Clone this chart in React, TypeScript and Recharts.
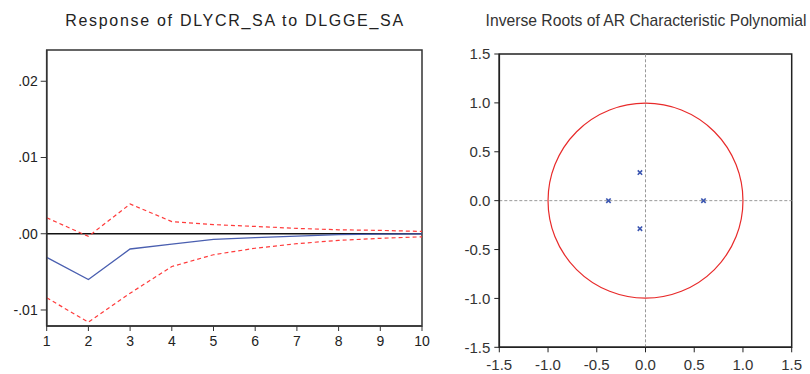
import React from 'react';
import {
  LineChart, Line, XAxis, YAxis, ReferenceLine, ReferenceArea,
  ScatterChart, Scatter, ReferenceDot,
} from 'recharts';

// ---- Left panel: impulse response ----
const periods = [1, 2, 3, 4, 5, 6, 7, 8, 9, 10];
const responseVals = [-0.0031, -0.0060, -0.0020, -0.00135, -0.00075, -0.0005, -0.0003, -0.00012, -0.00005, -0.00002];
const upperBand = [0.0021, -0.00035, 0.0039, 0.0016, 0.0012, 0.00096, 0.0007, 0.00052, 0.00044, 0.0003];
const lowerBand = [-0.0084, -0.0116, -0.0078, -0.0043, -0.00275, -0.0019, -0.0013, -0.00087, -0.0006, -0.0004];
const irfYTicks = [-0.01, 0, 0.01, 0.02];
const irfYDomain = [-0.0121, 0.0241];
const irfTitle = 'Response of DLYCR_SA to DLGGE_SA';

// ---- Right panel: inverse AR roots ----
const rootRe = [-0.38, 0.595, -0.057, -0.057];
const rootIm = [0, 0, 0.287, -0.287];
const rootTicks = [-1.5, -1.0, -0.5, 0, 0.5, 1.0, 1.5];
const rootDomain = [-1.5, 1.5];
const rootTitle = 'Inverse Roots of AR Characteristic Polynomial';

const FONT = '"Liberation Sans", Arial, sans-serif';

const irfData = periods.map((p, i) => ({ p, r: responseVals[i], u: upperBand[i], l: lowerBand[i] }));
const rootData = rootRe.map((re, i) => ({ re, im: rootIm[i] }));

const fmtIrf = (v: number) => {
  if (v === 0) return '.00';
  const s = Math.abs(v).toFixed(2).replace(/^0/, '');
  return (v < 0 ? '-' : '') + s;
};

// layout for right chart
const R_W = 370, R_H = 374;
const R_M = { top: 54, right: 18.3, bottom: 6.7, left: 9.3 };
const R_YW = 50, R_XH = 20;
const rPlotW = R_W - R_M.left - R_M.right - R_YW;
const unitRadius = rPlotW / (rootDomain[1] - rootDomain[0]);

const XMark = (props: any) => {
  const { cx, cy } = props;
  const s = 2.2;
  return (
    <g stroke="#3a55b0" strokeWidth={1.6}>
      <line x1={cx - s} y1={cy - s} x2={cx + s} y2={cy + s} />
      <line x1={cx - s} y1={cy + s} x2={cx + s} y2={cy - s} />
    </g>
  );
};

export default function App() {
  return (
    <div style={{ position: 'absolute', left: 0, top: 0, width: 810, height: 374, background: '#fff', fontFamily: FONT }}>
      <div style={{ position: 'absolute', left: 0, top: 13, width: 470, textAlign: 'center', fontSize: 16, lineHeight: '16px', letterSpacing: 1.7, color: '#222', whiteSpace: 'nowrap' }}>
        {irfTitle}
      </div>
      <div style={{ position: 'absolute', left: 440 + 206 - 200, top: 13, width: 400, textAlign: 'center', fontSize: 15.7, lineHeight: '16px', color: '#333', whiteSpace: 'nowrap' }}>
        {rootTitle}
      </div>

      <div style={{ position: 'absolute', left: 0, top: 0 }}>
        <LineChart width={430} height={374} data={irfData} margin={{ top: 50, right: 8, bottom: 18, left: 6.7 }}>
          <XAxis dataKey="p" type="number" domain={[1, 10]} ticks={periods} interval={0}
            tick={{ fill: '#222', fontSize: 14, fontFamily: FONT }} tickSize={5} tickMargin={5}
            axisLine={{ stroke: '#333', strokeWidth: 1.5 }} tickLine={{ stroke: '#333' }} height={30} allowDataOverflow />
          <YAxis type="number" domain={irfYDomain} ticks={irfYTicks} tickFormatter={fmtIrf} interval={0}
            tick={{ fill: '#222', fontSize: 14, fontFamily: FONT }} tickSize={6} tickMargin={3}
            axisLine={{ stroke: '#333', strokeWidth: 1.5 }} tickLine={{ stroke: '#333' }} width={40} allowDataOverflow />
          <ReferenceArea x1={1} x2={10} y1={irfYDomain[0]} y2={irfYDomain[1]} fill="none" stroke="#333" strokeWidth={1.5} ifOverflow="visible" />
          <ReferenceLine y={0} stroke="#111" strokeWidth={1.3} />
          <Line dataKey="u" stroke="#ff3b3b" strokeWidth={1.2} strokeDasharray="4 3" dot={false} isAnimationActive={false} />
          <Line dataKey="l" stroke="#ff3b3b" strokeWidth={1.2} strokeDasharray="4 3" dot={false} isAnimationActive={false} />
          <Line dataKey="r" stroke="#4a5fb0" strokeWidth={1.3} dot={false} isAnimationActive={false} />
        </LineChart>
      </div>

      <div style={{ position: 'absolute', left: 440, top: 0 }}>
        <ScatterChart width={R_W} height={R_H} margin={R_M}>
          <XAxis dataKey="re" type="number" domain={rootDomain} ticks={rootTicks} interval={0}
            tickFormatter={(v: number) => v.toFixed(1)}
            tick={{ fill: '#333', fontSize: 15, fontFamily: FONT }} tickSize={5} tickMargin={7}
            axisLine={{ stroke: '#222', strokeWidth: 1.5 }} tickLine={{ stroke: '#222' }} height={R_XH} allowDataOverflow />
          <YAxis dataKey="im" type="number" domain={rootDomain} ticks={rootTicks} interval={0}
            tickFormatter={(v: number) => v.toFixed(1)}
            tick={{ fill: '#333', fontSize: 15, fontFamily: FONT }} tickSize={5} tickMargin={4}
            axisLine={{ stroke: '#222', strokeWidth: 1.5 }} tickLine={{ stroke: '#222' }} width={R_YW} allowDataOverflow />
          <ReferenceArea x1={rootDomain[0]} x2={rootDomain[1]} y1={rootDomain[0]} y2={rootDomain[1]} fill="none" stroke="#222" strokeWidth={1.5} ifOverflow="visible" />
          <ReferenceLine x={0} stroke="#999" strokeDasharray="3 2" />
          <ReferenceLine y={0} stroke="#999" strokeDasharray="3 2" />
          <ReferenceDot x={0} y={0} r={unitRadius} fill="none" stroke="#e82a2a" strokeWidth={1.2} ifOverflow="visible" />
          <Scatter data={rootData} shape={XMark} isAnimationActive={false} />
        </ScatterChart>
      </div>
    </div>
  );
}
